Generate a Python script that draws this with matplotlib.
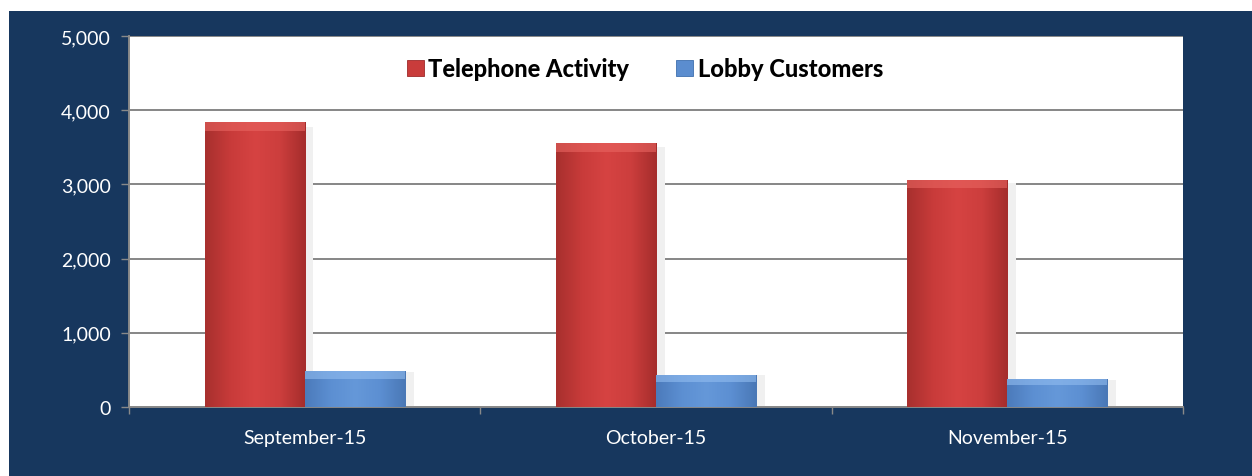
import numpy as np
import matplotlib
matplotlib.use("Agg")
import matplotlib.pyplot as plt
from matplotlib.patches import Rectangle
from matplotlib.colors import LinearSegmentedColormap

categories = ["September-15", "October-15", "November-15"]
telephone = [3835, 3560, 3065]
lobby = [485, 435, 372]
series_names = ["Telephone Activity", "Lobby Customers"]
yticks = [0, 1000, 2000, 3000, 4000, 5000]

NAVY = "#17375E"
RED = "#C93C3B"
BLUE = "#5B8DCF"
FONT = ["Lato", "DejaVu Sans"]

W, H = 1252, 477
fig = plt.figure(figsize=(W / 100, H / 100), dpi=100)
fig.patch.set_facecolor("white")
bg = Rectangle((9 / W, 0), 1 - 9 / W, 1 - 12 / H, transform=fig.transFigure,
               facecolor=NAVY, edgecolor="none", zorder=-10)
fig.patches.append(bg)

ax = fig.add_axes([129 / W, 69 / H, (1183 - 129) / W, (408 - 37) / H])
ax.set_zorder(1)
ax.set_facecolor("white")

x = np.arange(len(categories))
bw = 0.285
b1 = ax.bar(x - bw / 2, telephone, bw, color=RED, zorder=3, label=series_names[0],
            edgecolor="#9E2A2A", linewidth=0.6)
b2 = ax.bar(x + bw / 2, lobby, bw, color=BLUE, zorder=3, label=series_names[1],
            edgecolor="#3F6FAE", linewidth=0.6)

# bevel / gradient overlays clipped to bars
red_cmap = LinearSegmentedColormap.from_list("r", ["#A8302E", "#C83B3A", "#D64342", "#CC3E3D", "#A52D2C"])
blue_cmap = LinearSegmentedColormap.from_list("b", ["#4C7BBB", "#5C8FD2", "#6598D9", "#5C8FD2", "#4A78B6"])
grad = np.linspace(0, 1, 64).reshape(1, -1)
for bars, cmap, light in ((b1, red_cmap, "#E96561"), (b2, blue_cmap, "#92BDF0")):
    for p in bars:
        x0, y0 = p.get_x(), p.get_y()
        w, h = p.get_width(), p.get_height()
        ax.add_patch(Rectangle((x0 + w, 0), 0.025, h * 0.985, facecolor="#F0F0F0",
                               edgecolor="none", zorder=2))
        im = ax.imshow(grad, extent=(x0, x0 + w, y0, y0 + h), aspect="auto",
                       cmap=cmap, zorder=3.5, interpolation="bicubic")
        im.set_clip_path(p)
        top = min(120, h * 0.22)
        ax.add_patch(Rectangle((x0, y0 + h - top), w, top, facecolor=light, edgecolor="none",
                               alpha=0.6, zorder=3.6))

ax.set_xlim(-0.5, len(categories) - 0.5)
ax.set_ylim(0, 5000)
ax.set_yticks(yticks)
ax.set_yticklabels([f"{v:,}" for v in yticks])
ax.set_xticks(x)
ax.set_xticklabels(categories)
ax.set_xticks(np.arange(len(categories) + 1) - 0.5, minor=True)
ax.tick_params(axis="x", which="major", length=0, pad=16, labelcolor="white", labelsize=14)
ax.tick_params(axis="x", which="minor", length=5, width=1, color="#898989", direction="out")
ax.tick_params(axis="y", length=6, width=1, color="#898989", direction="out", pad=7,
               labelcolor="white", labelsize=14)
for lab in ax.get_xticklabels() + ax.get_yticklabels():
    lab.set_family(FONT)

ax.grid(axis="y", color="#868686", linewidth=1.4, zorder=1)
ax.set_axisbelow(True)
for s in ("right", "top"):
    ax.spines[s].set_visible(False)
for s in ("left", "bottom"):
    ax.spines[s].set_color("#898989")
    ax.spines[s].set_linewidth(1.4)

leg = ax.legend(loc="center", bbox_to_anchor=(0.4896, 0.912), ncol=2, frameon=False,
                prop={"family": FONT, "weight": "black", "size": 17},
                handlelength=0.7, handleheight=0.7, handletextpad=0.2, columnspacing=2.0)

fig.savefig("out.png", dpi=100, facecolor=fig.get_facecolor())
